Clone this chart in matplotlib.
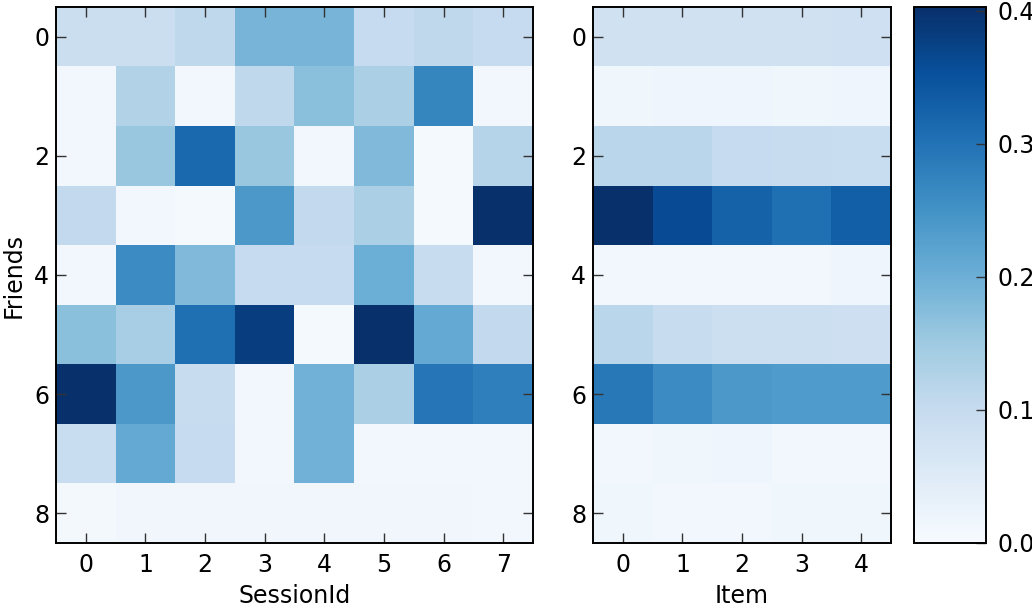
import numpy as np
import matplotlib
matplotlib.use("Agg")
from matplotlib import pyplot as plt

# friends x sessions
session_vals = [
    [0.090, 0.090, 0.110, 0.190, 0.190, 0.100, 0.110, 0.100],
    [0.010, 0.125, 0.010, 0.110, 0.170, 0.135, 0.270, 0.010],
    [0.010, 0.155, 0.315, 0.155, 0.010, 0.180, 0.005, 0.120],
    [0.105, 0.012, 0.005, 0.240, 0.105, 0.135, 0.005, 0.403],
    [0.012, 0.260, 0.180, 0.100, 0.100, 0.200, 0.097, 0.012],
    [0.170, 0.140, 0.305, 0.380, 0.005, 0.400, 0.210, 0.105],
    [0.400, 0.240, 0.097, 0.010, 0.195, 0.135, 0.295, 0.280],
    [0.093, 0.210, 0.100, 0.012, 0.195, 0.012, 0.012, 0.012],
    [0.008, 0.014, 0.014, 0.014, 0.014, 0.014, 0.014, 0.010],
]

# friends x items
item_vals = [
    [0.080, 0.080, 0.080, 0.080, 0.082],
    [0.015, 0.017, 0.017, 0.015, 0.018],
    [0.115, 0.115, 0.100, 0.095, 0.093],
    [0.403, 0.360, 0.325, 0.305, 0.330],
    [0.012, 0.012, 0.012, 0.012, 0.017],
    [0.115, 0.095, 0.088, 0.088, 0.086],
    [0.290, 0.260, 0.240, 0.235, 0.235],
    [0.012, 0.015, 0.018, 0.012, 0.012],
    [0.015, 0.012, 0.012, 0.015, 0.015],
]

cbar_ticks = [0.0, 0.1, 0.2, 0.3, 0.4]
vmax = 0.403
fs = 17

W, H = 1032, 612
fig = plt.figure(figsize=(W / 100, H / 100), dpi=100)

def box(x0, y0, x1, y1):
    # pixel box -> figure fraction
    return [x0 / W, 1 - y1 / H, (x1 - x0) / W, (y1 - y0) / H]

ax1 = fig.add_axes(box(56, 7, 533, 543))
ax2 = fig.add_axes(box(593, 7, 891, 543))
cax = fig.add_axes(box(914, 7, 986, 543))

im1 = ax1.imshow(np.array(session_vals), cmap="Blues", vmin=0, vmax=vmax,
                 interpolation="nearest", aspect="auto")
im2 = ax2.imshow(np.array(item_vals), cmap="Blues", vmin=0, vmax=vmax,
                 interpolation="nearest", aspect="auto")

for ax in (ax1, ax2):
    ax.set_yticks(range(0, 9, 2))
    ax.tick_params(direction="in", top=True, right=True, length=7,
                   width=1, color="#333333", labelsize=fs)
    ax.tick_params(axis="y", pad=5)
    ax.tick_params(axis="x", pad=7)
    for s in ax.spines.values():
        s.set_linewidth(1.4)
ax1.set_xticks(range(8))
ax2.set_xticks(range(5))
ax1.set_xlabel("SessionId", fontsize=fs, labelpad=5)
ax2.set_xlabel("Item", fontsize=fs, labelpad=5)
ax1.set_ylabel("Friends", fontsize=fs, labelpad=6)

cb = fig.colorbar(im1, cax=cax, ticks=cbar_ticks)
cb.ax.set_yticklabels(["%.1f" % t for t in cbar_ticks])
cb.ax.tick_params(direction="in", length=7, width=1, color="#333333",
                  labelsize=fs, pad=8)
cb.outline.set_linewidth(1.4)

fig.savefig("out.png", dpi=100)
